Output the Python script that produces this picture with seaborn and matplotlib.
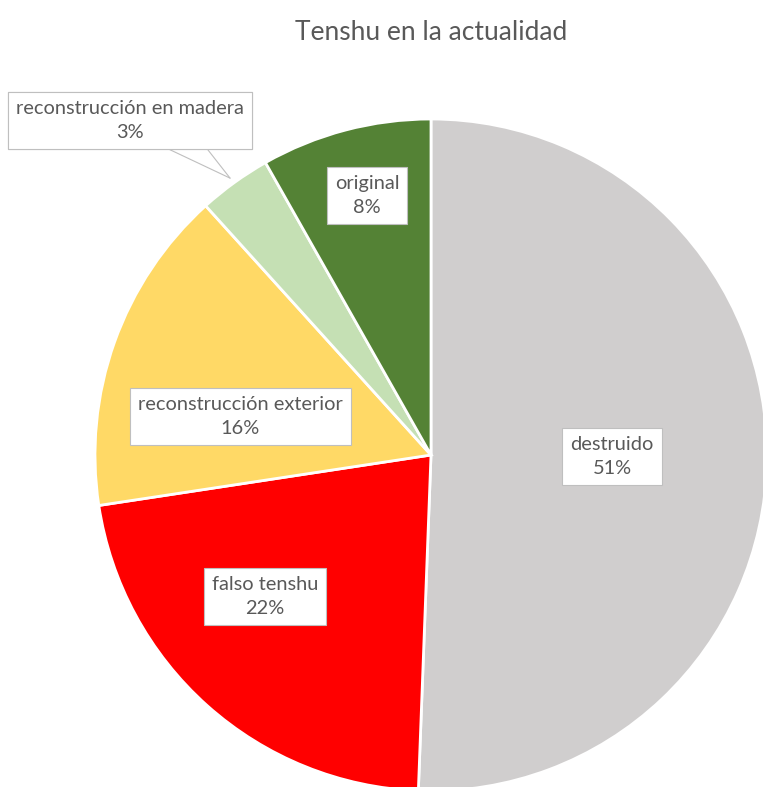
"""
Pie chart: state of tenshu (castle keeps) today.
"""
import matplotlib
matplotlib.use("Agg")
import matplotlib.pyplot as plt
import seaborn as sns

sns.set_style("white")
plt.rcParams["font.family"] = ["Lato", "DejaVu Sans"]

categories = ["destruido", "falso tenshu", "reconstrucción exterior",
              "reconstrucción en madera", "original"]
shares = [50.6, 22.0, 15.7, 3.5, 8.2]
pct_labels = ["51%", "22%", "16%", "3%", "8%"]
colors = ["#D0CECE", "#FF0000", "#FFD966", "#C5E0B4", "#548235"]

# label anchor points (axes data units, pie radius = 1)
label_pos = [(0.539, -0.003), (-0.494, -0.42), (-0.568, 0.116),
             (-0.896, 0.997), (-0.19, 0.771)]

text_color = "#595959"

fig = plt.figure(figsize=(7.63, 7.87), dpi=100)
ax = fig.add_axes([95 / 763, -4 / 787, 672 / 763, 672 / 787])

wedges, _ = ax.pie(shares, colors=colors, startangle=90, counterclock=False,
                   radius=1, wedgeprops=dict(edgecolor="white", linewidth=2))
ax.set_xlim(-1, 1)
ax.set_ylim(-1, 1)
ax.set_aspect("equal")
ax.axis("off")

box = dict(boxstyle="square,pad=0.4", facecolor="white", edgecolor="#BFBFBF", linewidth=0.8)

for i, (name, pct) in enumerate(zip(categories, pct_labels)):
    x, y = label_pos[i]
    txt = f"{name}\n{pct}"
    if name == "reconstrucción en madera":
        # callout: two leader lines from the box bottom to the slice edge
        for rx in (0.59, 0.81):
            ax.annotate(txt, xy=(-0.598, 0.824), xytext=(x, y), ha="center", va="center",
                        fontsize=14.4, color=text_color, linespacing=1.5, bbox=box,
                        annotation_clip=False,
                        arrowprops=dict(arrowstyle="-", relpos=(rx, 0), shrinkA=0, shrinkB=0,
                                        color="#BFBFBF", linewidth=0.8))
    else:
        ax.text(x, y, txt, ha="center", va="center", fontsize=14.4, color=text_color,
                linespacing=1.5, bbox=box)

fig.text(431 / 763, 1 - 32 / 787, "Tenshu en la actualidad", ha="center", va="center",
         fontsize=19, color=text_color)

fig.savefig("out.png", dpi=100)
